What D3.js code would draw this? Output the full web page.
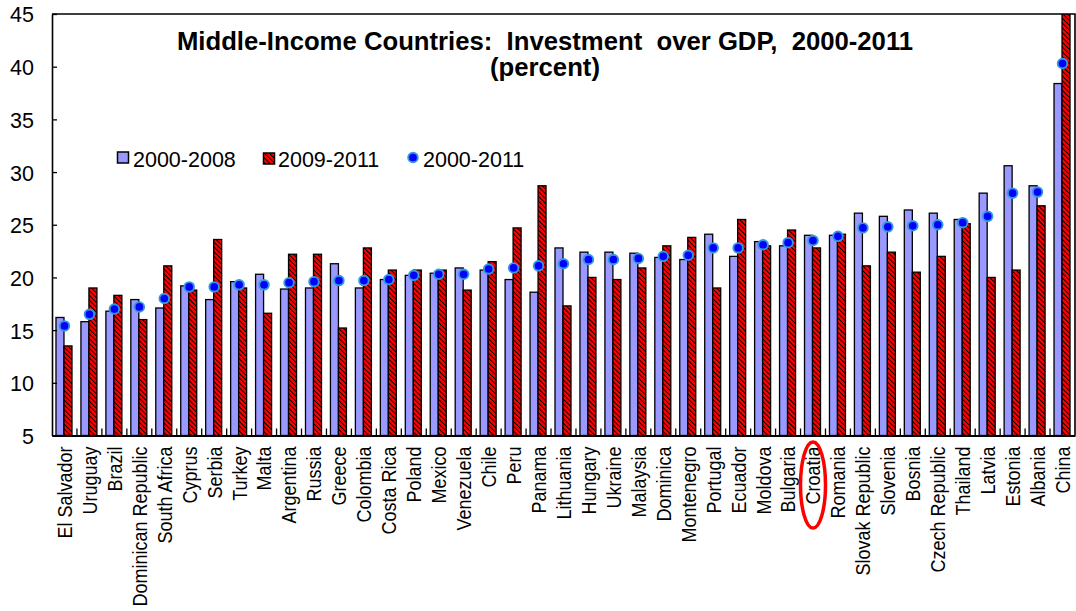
<!DOCTYPE html>
<html>
<head>
<meta charset="utf-8">
<script src="https://cdn.jsdelivr.net/npm/d3@7"></script>
<style>
  html, body { margin: 0; padding: 0; background: #fff; }
  svg { display: block; font-family: "Liberation Sans", Arial, sans-serif; }
</style>
</head>
<body>
<svg id="chart" width="1076" height="611"></svg>
<script>
const categories = ["El Salvador","Uruguay","Brazil","Dominican Republic","South Africa","Cyprus","Serbia","Turkey","Malta","Argentina","Russia","Greece","Colombia","Costa Rica","Poland","Mexico","Venezuela","Chile","Peru","Panama","Lithuania","Hungary","Ukraine","Malaysia","Dominica","Montenegro","Portugal","Ecuador","Moldova","Bulgaria","Croatia","Romania","Slovak Republic","Slovenia","Bosnia","Czech Republic","Thailand","Latvia","Estonia","Albania","China"];
const values2000_2008 = [16.2,15.8,16.8,17.9,17.1,19.2,17.9,19.6,20.3,18.9,19.0,21.3,19.0,19.8,20.2,20.4,20.9,20.7,19.8,18.6,22.8,22.4,22.4,22.3,21.9,21.7,24.1,22.0,23.4,23.0,24.0,24.0,26.1,25.8,26.4,26.1,25.5,28.0,30.6,28.7,38.4];
const values2009_2011 = [13.5,19.0,18.3,16.0,21.1,18.8,23.6,19.0,16.6,22.2,22.2,15.2,22.8,20.7,20.7,20.7,18.8,21.5,24.7,28.7,17.3,20.0,19.8,20.9,23.0,23.8,19.0,25.5,23.0,24.5,22.8,24.1,21.1,22.4,20.5,22.0,25.1,20.0,20.7,26.8,46.0];
const values2000_2011 = [15.4,16.5,17.0,17.2,18.0,19.1,19.1,19.3,19.3,19.5,19.6,19.7,19.7,19.8,20.2,20.3,20.3,20.8,20.9,21.1,21.3,21.7,21.7,21.8,22.0,22.1,22.8,22.8,23.1,23.3,23.5,23.9,24.7,24.8,24.9,25.0,25.2,25.8,28.0,28.1,40.3];
const yTicks = [5,10,15,20,25,30,35,40,45];
const seriesNames = ["2000-2008","2009-2011","2000-2011"];
const titleLines = ["Middle-Income Countries:  Investment  over GDP,  2000-2011","(percent)"];
const highlighted = "Croatia";

const svg = d3.select("#chart");
const L = 52, R = 1075, T = 14, B = 435.5;

const x = d3.scaleBand().domain(categories).range([L, R]).padding(0);
const xs = d3.scaleBand().domain(["a","b"]).range([-8.5, 7.5]).padding(0);
const y = d3.scaleLinear().domain([5,45]).range([B, T]);

const defs = svg.append("defs");
const pat = defs.append("pattern").attr("id","hatch").attr("patternUnits","userSpaceOnUse")
  .attr("width",3.4).attr("height",3.4).attr("patternTransform","rotate(-45)");
pat.append("rect").attr("width",3.4).attr("height",3.4).attr("fill","#ff0000");
pat.append("rect").attr("width",0.95).attr("height",3.4).attr("fill","#000");
defs.append("clipPath").attr("id","plotclip").append("rect")
  .attr("x",L).attr("y",T).attr("width",R-L).attr("height",B-T);

svg.append("rect").attr("width",1076).attr("height",611).attr("fill","#fff");

// bars
const gBars = svg.append("g").attr("clip-path","url(#plotclip)");
gBars.selectAll("rect.b1").data(categories).join("rect").attr("class","b1")
  .attr("x", d => x(d) + x.bandwidth()/2 + xs("a"))
  .attr("width", xs.bandwidth())
  .attr("y", (d,i) => y(values2000_2008[i]))
  .attr("height", (d,i) => B - y(values2000_2008[i]))
  .attr("fill","#9999ff").attr("stroke","#000").attr("stroke-width",1.3);
gBars.selectAll("rect.b2").data(categories).join("rect").attr("class","b2")
  .attr("x", d => x(d) + x.bandwidth()/2 + xs("b"))
  .attr("width", xs.bandwidth())
  .attr("y", (d,i) => y(Math.min(values2009_2011[i], 45.5)))
  .attr("height", (d,i) => B - y(Math.min(values2009_2011[i], 45.5)))
  .attr("fill","url(#hatch)").attr("stroke","#000").attr("stroke-width",1.3);

// frame
svg.append("path").attr("d", `M${L},${T}H${R}V${B}`).attr("fill","none").attr("stroke","#000").attr("stroke-width",1.6);

// y axis
const yAxis = d3.axisLeft(y).tickValues(yTicks).tickSizeInner(-5).tickSizeOuter(0).tickPadding(18);
const gy = svg.append("g").attr("transform",`translate(${L},0)`).call(yAxis);
gy.select(".domain").attr("stroke","#000").attr("stroke-width",1.6);
gy.selectAll(".tick line").attr("stroke","#000").attr("stroke-width",1.3);
gy.selectAll(".tick text").attr("font-size","21.5px").attr("fill","#000")
  .attr("font-family","'Liberation Sans', Arial, sans-serif").attr("dy","0.37em");

// x axis
const xAxis = d3.axisBottom(x).tickSize(0).tickSizeOuter(0);
const gx = svg.append("g").attr("transform",`translate(0,${B})`).call(xAxis);
gx.select(".domain").attr("stroke","#000").attr("stroke-width",2);
gx.selectAll(".tick text")
  .attr("font-size","18px").attr("fill","#000").attr("font-family","'Liberation Sans', Arial, sans-serif")
  .attr("text-anchor","end")
  .attr("transform","rotate(-90) scale(1,1.14)")
  .attr("x",-11).attr("y",0).attr("dy","0.36em");
// category separator ticks
svg.append("g").selectAll("line").data(categories.slice(1)).join("line")
  .attr("x1", d => x(d)).attr("x2", d => x(d))
  .attr("y1", B).attr("y2", B - 7)
  .attr("stroke","#000").attr("stroke-width",1.3);

// dots
svg.append("g").selectAll("circle").data(categories).join("circle")
  .attr("cx", d => x(d) + x.bandwidth()/2)
  .attr("cy", (d,i) => y(values2000_2011[i]))
  .attr("r", 4.8)
  .attr("fill","#0000ff").attr("stroke","#3399dd").attr("stroke-width",1.9);

// highlight ellipse
svg.append("ellipse")
  .attr("cx", x(highlighted) + x.bandwidth()/2).attr("cy", 485)
  .attr("rx", 12.5).attr("ry", 43)
  .attr("fill","none").attr("stroke","#ff0000").attr("stroke-width",3.5);

// title
const title = svg.append("g").attr("font-weight","bold").attr("font-size","25.7px").attr("fill","#000");
title.selectAll("text").data(titleLines).join("text")
  .attr("x", 545).attr("y", (d,i) => 49.5 + i*26)
  .attr("text-anchor","middle").style("white-space","pre")
  .text(d => d);

// legend
const lg = svg.append("g").attr("font-size","21.5px").attr("fill","#000");
lg.append("rect").attr("x",117.5).attr("y",152).attr("width",11).attr("height",11)
  .attr("fill","#9999ff").attr("stroke","#000").attr("stroke-width",1.5);
lg.append("text").attr("x",133).attr("y",166.5).text(seriesNames[0]);
lg.append("rect").attr("x",263.5).attr("y",153).attr("width",11).attr("height",11)
  .attr("fill","url(#hatch)").attr("stroke","#000").attr("stroke-width",1.5);
lg.append("text").attr("x",278).attr("y",166.5).text(seriesNames[1]);
lg.append("circle").attr("cx",413).attr("cy",157.5).attr("r",4.8)
  .attr("fill","#0000ff").attr("stroke","#3399dd").attr("stroke-width",1.9);
lg.append("text").attr("x",423).attr("y",166.5).text(seriesNames[2]);
</script>
</body>
</html>
